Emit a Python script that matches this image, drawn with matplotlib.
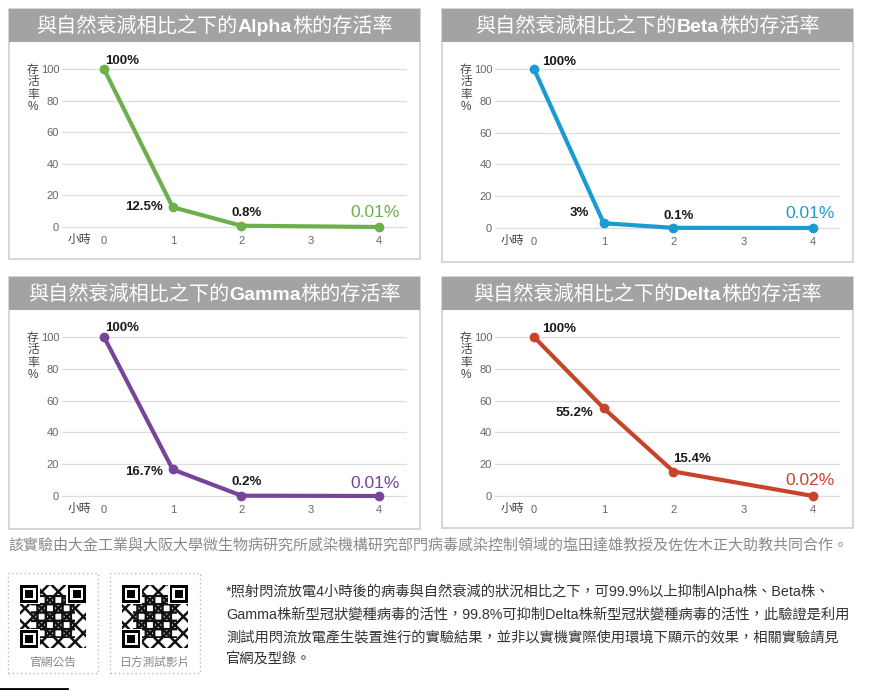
import matplotlib.pyplot as plt
from matplotlib.patches import Rectangle
from matplotlib.lines import Line2D
from matplotlib.offsetbox import TextArea, HPacker, AnchoredOffsetbox

plt.rcParams['font.family'] = ['Liberation Sans', 'Noto Sans CJK TC', 'DejaVu Sans']
plt.rcParams['hatch.linewidth'] = 1.8

# data
strains = ['Alpha', 'Beta', 'Gamma', 'Delta']
hours = [0, 1, 2, 4]
alpha_surv = [100, 12.5, 0.8, 0.01]
beta_surv = [100, 3, 0.1, 0.01]
gamma_surv = [100, 16.7, 0.2, 0.01]
delta_surv = [100, 55.2, 15.4, 0.02]
alpha_labels = ['100%', '12.5%', '0.8%', '0.01%']
beta_labels = ['100%', '3%', '0.1%', '0.01%']
gamma_labels = ['100%', '16.7%', '0.2%', '0.01%']
delta_labels = ['100%', '55.2%', '15.4%', '0.02%']
y_ticks = [0, 20, 40, 60, 80, 100]
x_ticks = [0, 1, 2, 3, 4]

colors = ['#6cb04e', '#1c9ad2', '#76459a', '#c9432b']
series = [alpha_surv, beta_surv, gamma_surv, delta_surv]
labels = [alpha_labels, beta_labels, gamma_labels, delta_labels]

# label offsets in px (dx, dy, ha) for each point
offsets = [
    [(1, 8, 'left'), (-10, 0, 'right'), (5, 13, 'center'), (-4, 14, 'center')],
    [(8, 7, 'left'), (-15, 10, 'right'), (5, 12, 'center'), (-3, 14, 'center')],
    [(1, 9, 'left'), (-10, -3, 'right'), (5, 14, 'center'), (-4, 12, 'center')],
    [(8, 8, 'left'), (-10, -5, 'right'), (0, 13, 'left'), (-3, 15, 'center')],
]

W, H = 870, 690
fig = plt.figure(figsize=(W / 100, H / 100), dpi=100)


def fx(x):
    return x / W


def fy(y):
    return 1 - y / H


# panel boxes (left, top, right, bottom) and axis mapping (x0, x4, y100, y0) in px
boxes = [(9, 9, 420, 259), (442, 9, 853, 262), (9, 277, 420, 529), (442, 277, 853, 528)]
maps = [(104, 379, 69, 227), (534, 813, 69, 228), (104, 379, 337, 496), (534, 813, 337, 496)]

for i in range(4):
    bl, bt, br, bb = boxes[i]
    x0, x4, y100, y0 = maps[i]
    col = colors[i]

    # frame and header
    fig.add_artist(Rectangle((fx(bl), fy(bb)), (br - bl) / W, (bb - bt) / H,
                             transform=fig.transFigure, fill=False, ec='#cfcfcf', lw=1.2))
    fig.add_artist(Rectangle((fx(bl), fy(bt + 33)), (br - bl) / W, 33 / H,
                             transform=fig.transFigure, fc='#a3a3a3', ec='none'))
    tp = dict(color='white', size=14.5, family=['Noto Sans CJK TC'])
    parts = [TextArea('與自然衰減相比之下的', textprops=tp),
             TextArea(strains[i], textprops=dict(color='white', size=14, weight='bold',
                                                 family=['Liberation Sans'])),
             TextArea('株的存活率', textprops=tp)]
    pack = HPacker(children=parts, align='baseline', pad=0, sep=0)
    ab = AnchoredOffsetbox(loc='center', child=pack, frameon=False, pad=0, borderpad=0,
                           bbox_to_anchor=(fx((bl + br) / 2), fy(bt + 17)),
                           bbox_transform=fig.transFigure)
    fig.add_artist(ab)

    # axes placement
    ppx = (x4 - x0) / 4
    ppy = (y0 - y100) / 100
    left_px, right_px = bl + 53, br - 13
    xlim = ((left_px - x0) / ppx, (right_px - x0) / ppx)
    ylim = (-4, 108)
    top_px = y0 - ylim[1] * ppy
    bot_px = y0 - ylim[0] * ppy
    ax = fig.add_axes([fx(left_px), fy(bot_px), (right_px - left_px) / W, (bot_px - top_px) / H])
    ax.set_xlim(xlim)
    ax.set_ylim(ylim)
    for s in ax.spines.values():
        s.set_visible(False)
    ax.set_yticks(y_ticks)
    ax.set_xticks(x_ticks)
    ax.tick_params(length=0, labelsize=8, labelcolor='#666666', pad=2)
    ax.grid(axis='y', color='#dddddd', lw=0.9)
    ax.set_axisbelow(True)

    ax.plot(hours, series[i], color=col, lw=3, marker='o', ms=6, clip_on=False,
            solid_joinstyle='round', zorder=3)

    for j, (h, v) in enumerate(zip(hours, series[i])):
        dx, dy, ha = offsets[i][j]
        last = j == len(hours) - 1
        ax.annotate(labels[i][j], (h, v), xytext=(dx * 0.72, dy * 0.72), textcoords='offset points',
                    ha=ha, va='center', fontsize=12.5 if last else 9.5,
                    fontweight='normal' if last else 'bold',
                    color=col if last else '#1a1a1a', annotation_clip=False)

    fig.text(fx(bl + 70), fy(y0 + 13), '小時', ha='center', va='center', fontsize=8.5, color='#444444')
    fig.text(fx(bl + 24), fy(y100 - 5), '存\n活\n率\n%', ha='center', va='top', fontsize=8.5,
             color='#444444', linespacing=1.05)

# footnote
fig.text(fx(8), fy(545), '該實驗由大金工業與大阪大學微生物病研究所感染機構研究部門病毒感染控制領域的塩田達雄教授及佐佐木正大助教共同合作。',
         ha='left', va='center', fontsize=10.8, color='#8a8a8a')

body = ['*照射閃流放電4小時後的病毒與自然衰減的狀況相比之下，可99.9%以上抑制Alpha株、Beta株、',
        'Gamma株新型冠狀變種病毒的活性，99.8%可抑制Delta株新型冠狀變種病毒的活性，此驗證是利用',
        '測試用閃流放電產生裝置進行的實驗結果，並非以實機實際使用環境下顯示的效果，相關實驗請見',
        '官網及型錄。']
body_y = [591, 615, 637, 659]
for line, y in zip(body, body_y):
    fig.text(fx(226), fy(y), line, ha='left', va='center', fontsize=10.3, color='#333333')

# QR code placeholders
qr_names = ['官網公告', '日方測試影片']
qr_boxes = [(8, 573, 98, 673), (110, 573, 200, 673)]
for name, (l, t, r, b) in zip(qr_names, qr_boxes):
    fig.add_artist(Rectangle((fx(l), fy(b)), (r - l) / W, (b - t) / H, transform=fig.transFigure,
                             fill=False, ec='#bbbbbb', lw=1, ls=(0, (1, 2))))
    qx = l + 12
    qax = fig.add_axes([fx(qx), fy(648), 66 / W, 63 / H])
    qax.set_xlim(0, 25)
    qax.set_ylim(0, 25)
    qax.axis('off')
    qax.add_patch(Rectangle((0, 0), 25, 25, fc='white', ec='#111111', hatch='xx', lw=0))
    qax.add_patch(Rectangle((4, 4), 17, 17, fc='none', ec='#111111', hatch='++', lw=0))
    for cx, cy in [(0, 18), (18, 18), (0, 0)]:
        qax.add_patch(Rectangle((cx - 0.5, cy - 0.5), 8, 8, fc='white', ec='none', zorder=2))
        qax.add_patch(Rectangle((cx, cy), 7, 7, fc='black', ec='none', zorder=3))
        qax.add_patch(Rectangle((cx + 1, cy + 1), 5, 5, fc='white', ec='none', zorder=4))
        qax.add_patch(Rectangle((cx + 2, cy + 2), 3, 3, fc='black', ec='none', zorder=5))
    fig.text(fx((l + r) / 2), fy(663), name, ha='center', va='center', fontsize=8.5, color='#888888')

fig.add_artist(Line2D([0, fx(67)], [fy(689), fy(689)], transform=fig.transFigure, color='black', lw=2))

fig.savefig('out.png', dpi=100, facecolor='white')
